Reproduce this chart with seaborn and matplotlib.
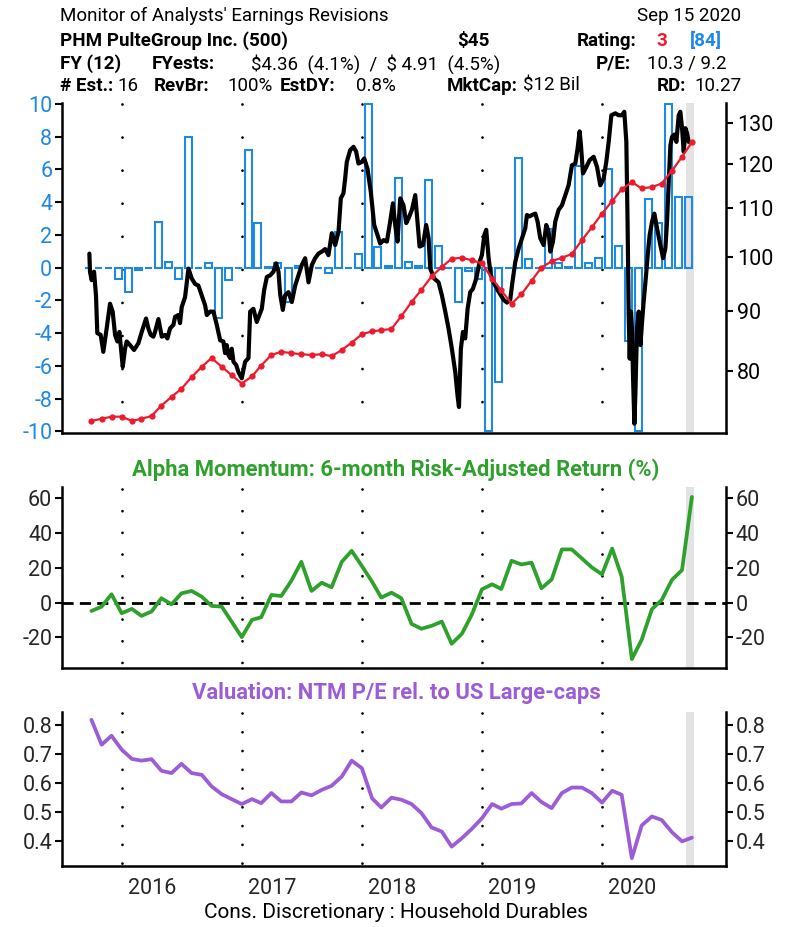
import numpy as np
import pandas as pd
import matplotlib
matplotlib.use("Agg")
import matplotlib.pyplot as plt
import seaborn as sns
from matplotlib.ticker import FixedLocator, NullLocator, FormatStrFormatter

# ---------------- data ----------------
month_end = pd.date_range("2015-09-30", periods=61, freq="ME")

revisions = [0, 0, 0, -0.7, -1.5, -0.15, 0, 2.8, 0.35, -0.7, 8.0, 0, 0.3, -3.1, -0.75, 0,
             7.2, 2.7, 0.05, 0.3, -2.1, 0.1, 0, 0, -0.35, 2.2, -0.05, 0.85, 10.0, 1.25,
             0.1, 5.5, 0.35, 0.1, 5.35, 1.3, 0, -2.1, -0.2, -0.7, -10.0, -7.0, 0, 6.7, 0.5,
             0, 2.35, 0.25, 0.05, 6.2, 0.25, 0.6, 6.0, 1.3, -4.5, -10.0, 4.2, 2.75, 10.0, 4.3, 4.3]

earnings_line = [72.6, 72.9, 73.2, 73.2, 72.6, 72.9, 73.3, 74.8, 76.1, 77.3, 79.1, 80.7, 82.1,
                 80.7, 79.4, 78.1, 79.2, 80.9, 82.6, 83.1,
                 82.9, 82.7, 82.6, 82.7, 82.4, 83.4, 84.6, 86.0, 86.5, 86.7, 86.9, 89.1, 91.6,
                 93.8, 96.3, 98.1, 99.7, 99.9, 99.4, 98.8, 95.9, 93.7,
                 91.3, 93.0, 95.5, 98.0, 99.2, 99.9, 100.6, 103.4, 106.0, 108.9, 111.6, 114.2,
                 115.8, 114.4, 114.7, 115.5, 118.4, 121.7, 125.2]

alpha_momentum = [-4.8, -2.3, 4.8, -6.1, -3.6, -7.6, -5.1, 2.5, -1.0, 5.3, 6.7, 3.4, -1.9, -2.3,
                  -10.9, -19.8, -9.9, -8.4, 4.4, 3.8, 12.6, 23.4, 6.7, 11.4, 8.8, 23.4, 29.7,
                  21.0, 12.0, 2.9,
                  5.7, 2.5, -12.2, -15.0, -13.3, -10.9, -23.6, -17.9, -7.0, 7.6, 10.5, 7.8,
                  24.0, 21.9, 22.9, 8.2, 13.3, 30.5, 30.5, 25.3, 20.2, 16.2, 31.0, 14.9,
                  -32.4, -21.3, -3.8, 1.5, 13.0, 18.7, 60.6]

valuation = [0.817, 0.731, 0.762, 0.714, 0.682, 0.676, 0.681, 0.641, 0.633, 0.665, 0.633, 0.627,
             0.587, 0.560, 0.543, 0.526, 0.543, 0.529, 0.564, 0.535, 0.535, 0.566, 0.556,
             0.575, 0.589, 0.621, 0.676, 0.650, 0.546, 0.514,
             0.548, 0.541, 0.526, 0.495, 0.445, 0.431, 0.379, 0.408, 0.440, 0.477, 0.526,
             0.510, 0.526, 0.528, 0.564, 0.533, 0.512, 0.564, 0.583, 0.583, 0.564, 0.531,
             0.572, 0.558, 0.339, 0.452, 0.483, 0.471, 0.429, 0.397, 0.410]

# price line (decimal year, value on right log axis)
price_t = [2015.728, 2015.733, 2015.747, 2015.767, 2015.783, 2015.794, 2015.822, 2015.844,
           2015.872, 2015.900, 2015.922, 2015.942, 2015.961, 2015.978, 2016.006, 2016.025,
           2016.039, 2016.067, 2016.100, 2016.136, 2016.164, 2016.200, 2016.219, 2016.239,
           2016.261, 2016.275, 2016.303, 2016.331, 2016.358, 2016.378, 2016.400, 2016.428,
           2016.442, 2016.469, 2016.483, 2016.497, 2016.525, 2016.553, 2016.581, 2016.608,
           2016.636, 2016.664, 2016.692, 2016.706, 2016.733, 2016.761, 2016.789, 2016.817,
           2016.844, 2016.858, 2016.872, 2016.886, 2016.900, 2016.914, 2016.928, 2016.950,
           2016.969, 2016.997, 2017.025, 2017.053, 2017.067, 2017.094, 2017.122, 2017.144,
           2017.164, 2017.183, 2017.206, 2017.233, 2017.261, 2017.283, 2017.303,
           2017.317, 2017.339, 2017.358, 2017.386, 2017.414, 2017.442, 2017.469, 2017.497,
           2017.525, 2017.553, 2017.581, 2017.608, 2017.636, 2017.664, 2017.692, 2017.719,
           2017.747, 2017.775, 2017.803, 2017.822, 2017.844, 2017.858, 2017.872, 2017.900,
           2017.928, 2017.950, 2017.969, 2017.997, 2018.017, 2018.044, 2018.072, 2018.100,
           2018.128, 2018.150, 2018.178, 2018.206, 2018.233, 2018.256, 2018.275, 2018.294,
           2018.317, 2018.344, 2018.367, 2018.386, 2018.414, 2018.442, 2018.461, 2018.478,
           2018.506, 2018.533, 2018.553, 2018.567, 2018.600, 2018.636, 2018.664, 2018.692,
           2018.719, 2018.747, 2018.775, 2018.794, 2018.806, 2018.822, 2018.839, 2018.858,
           2018.878, 2018.900, 2018.922, 2018.950, 2018.978, 2018.997, 2019.017, 2019.033,
           2019.053, 2019.072, 2019.094, 2019.122, 2019.150, 2019.178, 2019.206, 2019.233,
           2019.250, 2019.275, 2019.303, 2019.331, 2019.358, 2019.372, 2019.394, 2019.414,
           2019.442, 2019.461, 2019.483, 2019.511, 2019.533, 2019.553, 2019.567, 2019.589,
           2019.608, 2019.636, 2019.664, 2019.692, 2019.719, 2019.747, 2019.775, 2019.794,
           2019.811, 2019.822, 2019.839, 2019.867, 2019.894, 2019.928, 2019.956, 2019.983,
           2020.011, 2020.033, 2020.053, 2020.075, 2020.108, 2020.136, 2020.164, 2020.183,
           2020.200, 2020.211, 2020.219, 2020.228, 2020.239, 2020.247, 2020.256, 2020.267,
           2020.275, 2020.289, 2020.303, 2020.317, 2020.331, 2020.344, 2020.364, 2020.378,
           2020.394, 2020.414, 2020.433, 2020.456, 2020.483, 2020.506, 2020.525, 2020.539,
           2020.553, 2020.567, 2020.581, 2020.600, 2020.617, 2020.636, 2020.650, 2020.664,
           2020.678, 2020.692, 2020.706, 2020.719]
price_v = [100.7, 97.2, 95.6, 97.2, 92.8, 86.2, 85.9, 83.1,
           87.0, 91.3, 89.9, 85.9, 84.8, 86.4, 80.7, 83.6,
           84.8, 84.2, 83.4, 84.5, 86.4, 88.7, 87.0, 85.9,
           85.6, 86.4, 88.6, 85.6, 85.9, 85.3, 87.0, 87.6,
           89.0, 89.3, 87.9, 90.7, 92.5, 97.8, 95.9, 94.9,
           94.6, 92.8, 91.0, 89.3, 89.9, 89.9, 87.6, 85.0,
           84.8, 82.9, 84.2, 82.6, 82.1, 83.6, 81.5, 81.0,
           79.9, 78.9, 81.5, 82.1, 89.9, 90.4, 88.1, 89.3,
           90.4, 93.7, 96.2, 96.5, 97.2, 98.8, 97.2,
           93.0, 90.2, 92.8, 93.4, 91.6, 94.6, 96.5, 98.5,
           99.8, 95.2, 98.5, 99.8, 100.7, 101.1, 101.6, 100.4,
           104.8, 102.4, 105.1, 112.2, 113.3, 116.6, 120.5, 123.3,
           124.1, 122.9, 120.1, 120.5, 121.3, 118.9, 113.6, 106.5,
           104.4, 102.7, 103.4, 103.1, 107.2, 111.1, 106.5, 103.1,
           112.2, 110.7, 106.9, 107.9, 109.7, 112.9, 107.2, 102.1,
           102.4, 106.5, 103.8, 97.8, 95.9, 95.2, 92.8, 89.9,
           87.0, 83.6, 79.9, 76.3, 74.6, 83.6, 86.4, 85.3,
           90.4, 93.4, 94.0, 95.9, 99.1, 100.4, 104.4, 105.5,
           99.8, 96.5, 95.2, 94.0, 93.0, 92.0, 91.5, 92.0,
           95.0, 99.1, 101.7, 103.8, 105.8, 108.6, 108.3, 108.6,
           108.9, 107.2, 103.8, 102.4, 106.5, 105.1, 101.1, 103.1,
           107.2, 109.7, 110.7, 112.9, 115.1, 119.7, 120.1, 123.7,
           127.9, 124.5, 117.8, 119.3, 120.9, 121.7, 119.3, 115.1,
           116.6, 120.5, 125.3, 132.0, 132.5, 132.0, 132.0, 132.9,
           125.3, 105.8, 89.9, 82.0, 89.9, 87.0, 78.9, 72.2,
           76.3, 87.0, 89.9, 84.2, 88.1, 91.6, 96.5, 100.4,
           104.4, 107.2, 108.9, 105.8, 102.4, 99.8, 101.7, 107.2,
           115.9, 124.5, 126.6, 127.1, 125.3, 132.0, 132.9, 128.7,
           122.9, 128.7, 127.4, 125.3]

years = [2016, 2017, 2018, 2019, 2020]
year_labels = ["2016", "2017", "2018", "2019", "2020"]
left_ticks = [-10, -8, -6, -4, -2, 0, 2, 4, 6, 8, 10]
right_ticks = [80, 90, 100, 110, 120, 130]
alpha_ticks = [-20, 0, 20, 40, 60]
val_ticks = [0.4, 0.5, 0.6, 0.7, 0.8]

# ---------------- style ----------------
BLUE = "#1e88e5"
RED = "#ec1c2e"
GREEN = "#2ea02c"
PURPLE = "#9b5cd6"
GRAY = "#e3e3e3"
TICK_FS = 15.5

sns.set_theme(style="ticks")
plt.rcParams["font.family"] = ["Roboto", "DejaVu Sans"]
plt.rcParams["axes.unicode_minus"] = False
plt.rcParams["lines.scale_dashes"] = False
plt.rcParams["text.parse_math"] = False

def dec_year(d):
    d = pd.DatetimeIndex(d)
    return np.asarray(d.year + (d.dayofyear - 1) / np.where(d.is_leap_year, 366, 365), dtype=float)

t_month = dec_year(month_end)
XL = (2015.5, 2021.03)
BAND = (2020.70, 2020.76)

W, H = 789, 927
fig = plt.figure(figsize=(W / 100, H / 100), dpi=100)

def axes_px(left, top, right, bottom):
    return fig.add_axes([left / W, 1 - bottom / H, (right - left) / W, (bottom - top) / H])

ax1 = axes_px(62, 103, 726, 433)
ax2 = axes_px(62, 487, 726, 668)
ax3 = axes_px(62, 712, 726, 866)
ax1r = ax1.twinx()

def year_grid(ax, ylo, yhi, gap):
    for yr in years:
        ax.plot([yr, yr], [yhi, ylo], color="black", lw=2.0, dashes=(0.01, gap),
                dash_capstyle="round", zorder=0.6)

def style_spines(ax, left=True, right=False):
    ax.spines["top"].set_visible(False)
    ax.spines["left"].set_visible(left)
    ax.spines["right"].set_visible(right)
    for s in ax.spines.values():
        s.set_color("black")
        s.set_linewidth(1.8)

# ---------------- top panel ----------------
ax1.axvspan(*BAND, color=GRAY, lw=0, zorder=0)
year_grid(ax1, -10.1, 10.0, 23.8)
ax1.bar(t_month - 0.0275, revisions, width=0.058, facecolor="none",
        edgecolor=BLUE, linewidth=1.5, zorder=2)
ax1.set_ylim(-10.1, 10.05)
ax1.set_xlim(*XL)
ax1.set_yticks(left_ticks)
ax1.set_xticks([])
ax1.tick_params(axis="y", direction="out", length=5, width=1.5, color="black",
                labelcolor=BLUE, labelsize=TICK_FS, pad=2)
style_spines(ax1, left=True, right=False)

sns.lineplot(x=price_t, y=price_v, ax=ax1r, color="black", linewidth=3.0,
             estimator=None, sort=False, zorder=3)
sns.lineplot(x=t_month, y=earnings_line, ax=ax1r, color=RED, linewidth=1.6,
             marker="o", markersize=4.5, markeredgewidth=0, estimator=None,
             sort=False, zorder=4)
ax1r.set_yscale("log")
ax1r.set_ylim(70.9, 135.2)
ax1r.yaxis.set_major_locator(FixedLocator(right_ticks))
ax1r.yaxis.set_minor_locator(NullLocator())
ax1r.yaxis.set_major_formatter(FormatStrFormatter("%d"))
ax1r.set_xlim(*XL)
ax1r.set_xticks([])
ax1r.set_xlabel("")
ax1r.set_ylabel("")
ax1r.tick_params(axis="y", direction="out", length=5, width=1.5, color="black",
                 labelcolor="black", labelsize=TICK_FS, pad=3)
style_spines(ax1r, left=False, right=True)
ax1r.spines["bottom"].set_visible(False)

# ---------------- middle panel ----------------
ax2.axvspan(*BAND, color=GRAY, lw=0, zorder=0)
year_grid(ax2, -37.5, 65.0, 15.6)
ax2.axhline(0, color="black", lw=2.0, dashes=(8, 4.5), zorder=1)
sns.lineplot(x=t_month, y=alpha_momentum, ax=ax2, color=GREEN, linewidth=2.7,
             estimator=None, sort=False, zorder=3)
ax2.set_ylim(-37.5, 66.3)
ax2.set_xlim(*XL)
ax2.set_yticks(alpha_ticks)
ax2.set_xticks([])
ax2.set_xlabel("")
ax2.set_ylabel("")
ax2.tick_params(axis="y", direction="out", length=5, width=1.5, color="black",
                left=True, right=True, labelleft=True, labelright=True,
                labelsize=TICK_FS, pad=2)
style_spines(ax2, left=True, right=True)

# ---------------- bottom panel ----------------
ax3.axvspan(*BAND, color=GRAY, lw=0, zorder=0)
year_grid(ax3, 0.312, 0.840, 13.5)
sns.lineplot(x=t_month, y=valuation, ax=ax3, color=PURPLE, linewidth=2.7,
             estimator=None, sort=False, zorder=3)
ax3.set_ylim(0.312, 0.844)
ax3.set_xlim(*XL)
ax3.set_yticks(val_ticks)
ax3.yaxis.set_major_formatter(FormatStrFormatter("%.1f"))
ax3.set_xticks([y + 0.25 for y in years])
ax3.set_xticklabels(year_labels)
ax3.set_xlabel("")
ax3.set_ylabel("")
ax3.tick_params(axis="x", length=0, labelsize=TICK_FS, pad=9)
ax3.tick_params(axis="y", direction="out", length=5, width=1.5, color="black",
                left=True, right=True, labelleft=True, labelright=True,
                labelsize=TICK_FS, pad=2)
style_spines(ax3, left=True, right=True)

# ---------------- texts ----------------
def ft(x, y, s, ha="left", weight="normal", color="black", size=13.5):
    fig.text(x / W, 1 - y / H, s, ha=ha, va="center", fontsize=size,
             fontweight=weight, color=color, parse_math=False)

ft(60, 16, "Monitor of Analysts' Earnings Revisions")
ft(741, 16, "Sep 15 2020", ha="right")
ft(60, 41, "PHM PulteGroup Inc. (500)", weight="bold")
ft(457, 41, "$45", weight="bold")
ft(577, 41, "Rating:", weight="bold")
ft(656, 41, "3", weight="bold", color=RED)
ft(722, 41, "[84]", ha="right", weight="bold", color=BLUE)
ft(60, 64, "FY (12)", weight="bold")
ft(152, 64, "FYests:", weight="bold")
ft(251, 64, "$4.36  (4.1%)  /  $ 4.91  (4.5%)")
ft(596, 64, "P/E:", weight="bold")
ft(727, 64, "10.3 / 9.2", ha="right")
ft(60, 86, "# Est.:", weight="bold")
ft(117, 86, "16")
ft(154, 86, "RevBr:", weight="bold")
ft(227, 86, "100%")
ft(280, 86, "EstDY:", weight="bold")
ft(356, 86, "0.8%")
ft(447, 86, "MktCap:", weight="bold")
ft(523, 86, "$12 Bil")
ft(657, 86, "RD:", weight="bold")
ft(742, 86, "10.27", ha="right")

ft(396, 470, "Alpha Momentum: 6-month Risk-Adjusted Return (%)", ha="center",
   weight="bold", color=GREEN, size=15.8)
ft(396, 693, "Valuation: NTM P/E rel. to US Large-caps", ha="center",
   weight="bold", color=PURPLE, size=15.8)
ft(396, 913, "Cons. Discretionary : Household Durables", ha="center", size=15)

fig.savefig("out.png", dpi=100)
